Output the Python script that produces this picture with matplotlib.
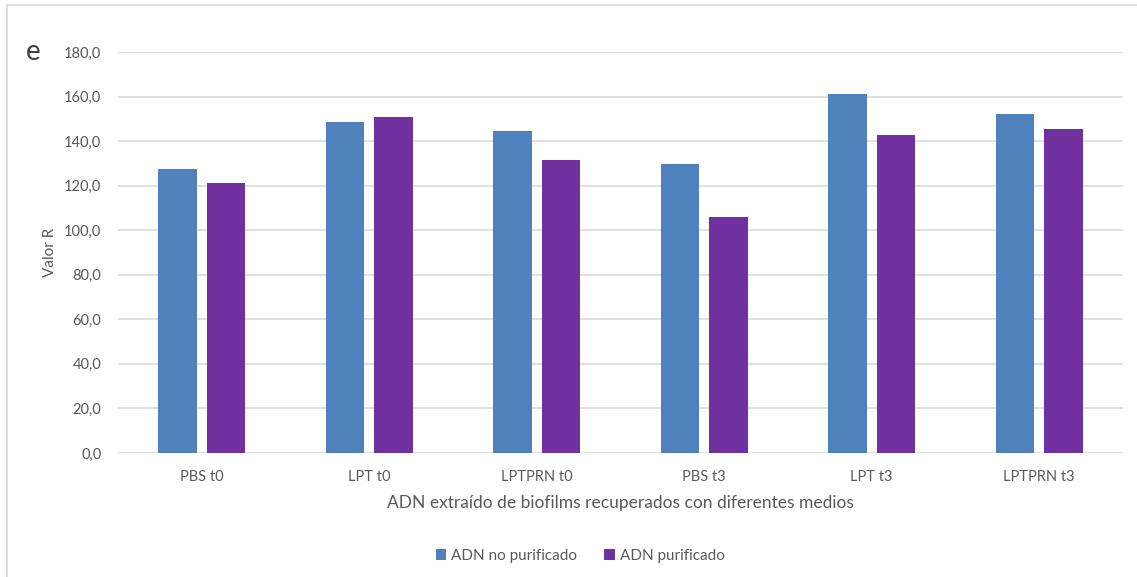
import numpy as np
import matplotlib.pyplot as plt
from matplotlib.patches import Rectangle
from matplotlib.ticker import FuncFormatter

categories = ["PBS t0", "LPT t0", "LPTPRN t0", "PBS t3", "LPT t3", "LPTPRN t3"]
no_purificado = [127.3, 148.6, 144.4, 129.8, 161.1, 152.0]
purificado = [121.0, 150.7, 131.5, 106.1, 142.7, 145.3]
series_names = ["ADN no purificado", "ADN purificado"]

plt.rcParams['font.family'] = ['Lato', 'DejaVu Sans']
text_col = '#595959'

fig = plt.figure(figsize=(11.37, 5.77), dpi=100)
ax = fig.add_axes([118 / 1137, 1 - 453 / 577, (1123 - 118) / 1137, (453 - 52) / 577])

x = np.arange(len(categories))
w = 0.23
gap = 0.06
ax.bar(x - (w + gap) / 2, no_purificado, w, color='#4F81BD', label=series_names[0], zorder=3)
ax.bar(x + (w + gap) / 2, purificado, w, color='#7030A0', label=series_names[1], zorder=3)

ax.set_xlim(-0.5, len(categories) - 0.5)
ax.set_ylim(0, 180)
ax.set_yticks(np.arange(0, 181, 20))
ax.yaxis.set_major_formatter(FuncFormatter(lambda v, p: f"{v:.1f}".replace('.', ',')))
ax.set_xticks(x)
ax.set_xticklabels(categories)
ax.grid(axis='y', color='#D9D9D9', linewidth=1.2, zorder=0)
for s in ax.spines.values():
    s.set_visible(False)
ax.tick_params(length=0, labelsize=10.5, colors=text_col, pad=12)
ax.tick_params(axis='y', pad=12)

ax.set_ylabel("Valor R", fontsize=11, color=text_col, labelpad=5)
ax.set_xlabel("ADN extraído de biofilms recuperados con diferentes medios",
              fontsize=12.5, color=text_col, labelpad=8)

fig.legend(loc='center', bbox_to_anchor=(580 / 1137, 1 - 556 / 577), ncol=2, frameon=False,
           fontsize=11, labelcolor=text_col, handlelength=0.7, handleheight=0.7,
           handletextpad=0.3, columnspacing=1.8)

fig.text(33 / 1137, 1 - 52 / 577, "e", fontsize=20, color='#404040', va='center', ha='center')
fig.patches.append(Rectangle((7 / 1137, -0.1), 1.2, 1 - 5 / 577 + 0.1, transform=fig.transFigure,
                             fill=False, edgecolor='#D9D9D9', linewidth=1.2))

fig.savefig("out.png", dpi=100)
